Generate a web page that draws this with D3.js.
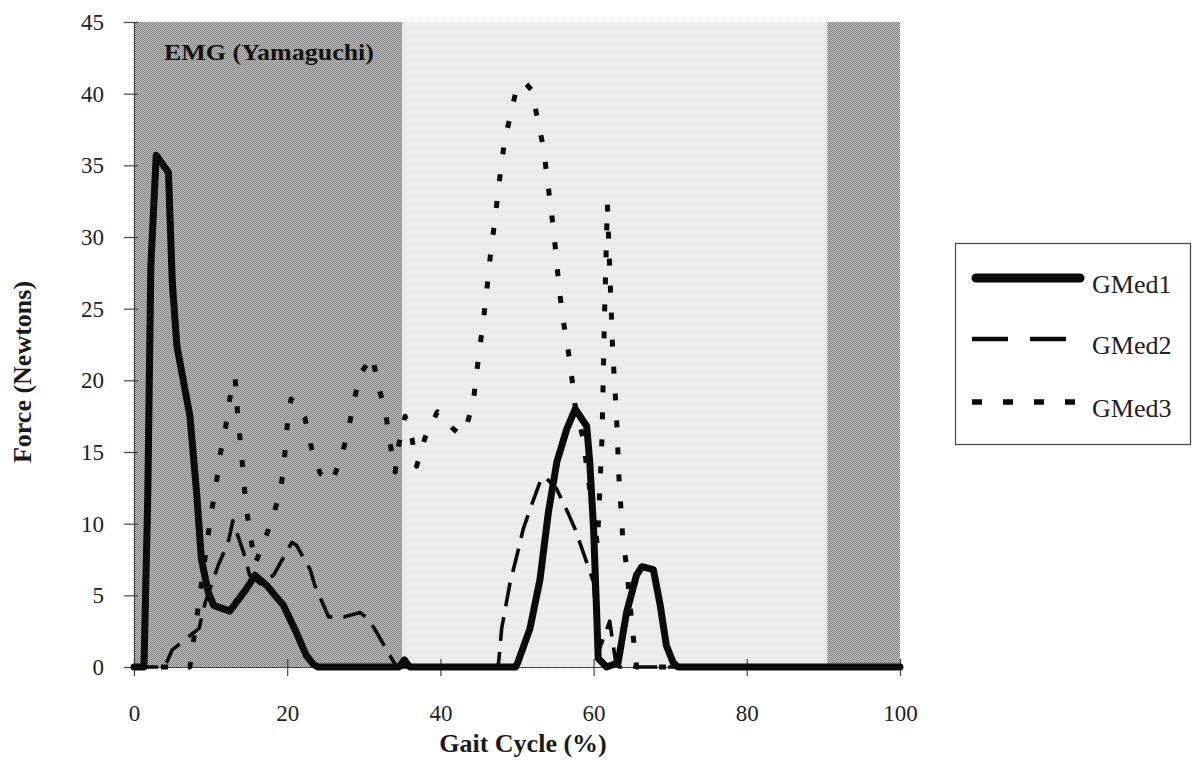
<!DOCTYPE html>
<html>
<head>
<meta charset="utf-8">
<script src="https://cdn.jsdelivr.net/npm/d3@7"></script>
<style>
  html, body { margin: 0; padding: 0; background: #fff; }
  svg { display: block; }
  text { font-family: "Liberation Serif", "Times New Roman", serif; fill: #1a1a1a; }
</style>
</head>
<body>
<svg id="chart" width="1193" height="776"></svg>
<script>
// Gait cycle (%) and force (N) samples for each gluteus medius segment
const gmed1 = [
  [0, 0], [1.3, 0], [1.8, 12], [2.2, 28], [2.9, 35.7], [4.5, 34.5], [5.0, 26.8],
  [5.6, 22.4], [7.3, 17.5], [8.2, 12.0], [8.8, 7.5], [9.7, 5.2], [10.4, 4.3],
  [12.5, 3.9], [14.6, 5.4], [15.8, 6.4], [17.3, 5.7], [19.5, 4.3], [21.2, 2.4],
  [22.5, 0.8], [23.4, 0.2], [24, 0], [34.6, 0], [35.3, 0.5], [36, 0],
  [49.8, 0], [50.1, 0.3], [51.7, 2.7], [53.0, 6.1], [54.1, 10.8], [55.2, 14.3],
  [56.5, 16.6], [57.6, 18.0], [59.1, 16.8], [59.5, 14.3], [60.0, 9.6], [60.4, 3.8],
  [60.6, 0.6], [61.7, 0], [63.2, 0.3], [64.3, 3.8], [65.6, 6.4], [66.3, 7.0],
  [67.8, 6.8], [68.7, 4.3], [69.5, 1.5], [70.4, 0.3], [71, 0], [100, 0]
];

const gmed2 = [
  [0, 0], [4, 0], [5.0, 1.2], [8.5, 2.7], [9.3, 4.5], [11.0, 7.1], [12.3, 8.7],
  [12.9, 10.2], [14.3, 8.0], [15.1, 6.4], [16.5, 5.8], [18.2, 6.4], [19.9, 8.0],
  [20.6, 8.7], [21.2, 8.5], [23.0, 6.8], [23.6, 5.7], [25.4, 3.5], [27.5, 3.5],
  [29.5, 3.8], [30.6, 3.35], [31.7, 2.4], [33.4, 0.8], [34.3, 0], [47.3, 0],
  [47.6, 0.3], [48.0, 2.7], [49.1, 5.9], [50.0, 7.8], [50.8, 9.6], [51.7, 11.0],
  [53.0, 12.9], [53.6, 13.3], [55.2, 12.4], [56.7, 10.7], [57.6, 9.6], [59.1, 7.3],
  [60.0, 5.9], [60.6, 1.0], [62.1, 3.2], [62.9, 0.3], [63.3, 0], [100, 0]
];

const gmed3 = [
  [0, 0], [7.3, 0], [10.1, 10.8], [10.7, 12.6], [11.2, 14.7], [11.9, 16.5],
  [12.5, 18.7], [13.2, 20.2], [13.5, 17.9], [13.9, 15.6], [14.3, 13.3], [14.6, 11.3],
  [15.1, 9.5], [15.8, 7.2], [16.9, 8.6], [18.0, 10.3], [19.1, 12.2], [19.6, 14.2],
  [19.9, 16.4], [20.5, 18.7], [22.3, 17.4], [23.2, 15.2], [24.3, 13.5], [25.8, 12.9],
  [27.0, 14.5], [28.0, 16.6], [28.7, 18.5], [29.5, 20.4], [31.1, 21.7], [31.9, 19.6],
  [32.8, 17.9], [33.4, 15.7], [34.1, 13.6], [34.6, 15.6], [35.4, 17.5], [36.3, 15.9],
  [36.9, 14.0], [38.0, 16.0], [39.6, 17.8], [41.5, 16.7], [42.6, 16.2], [43.3, 16.6],
  [44.3, 18.5], [44.7, 20.4], [45.2, 22.5], [45.7, 24.6], [46.1, 26.5], [46.5, 28.6],
  [47.0, 30.7], [47.4, 32.5], [47.9, 34.8], [48.4, 36.8], [49.2, 38.6], [50.0, 40.5],
  [51.0, 40.8], [52.0, 40.2], [52.7, 38.1], [53.4, 36.4], [53.9, 34.3], [54.4, 32.1],
  [54.8, 30.4], [55.2, 28.1], [55.6, 26.0], [56.0, 24.3], [56.7, 22.0], [57.2, 20.0],
  [57.6, 18.2], [58.6, 16.0], [59.6, 12.0], [60.5, 8.5], [61.1, 16.0], [61.4, 24.0],
  [61.8, 32.3], [62.2, 26.4], [62.5, 22.0], [63.0, 17.4], [63.3, 13.3], [63.8, 9.1],
  [64.3, 7.0], [65.0, 3.0], [65.6, 0], [100, 0]
];

const seriesNames = ["GMed1", "GMed2", "GMed3"];
const xTicks = [0, 20, 40, 60, 80, 100];
const yTicks = [0, 5, 10, 15, 20, 25, 30, 35, 40, 45];
// EMG activity bands along the gait cycle: [start, end, shade]
const emgBands = [[0, 35, "dark"], [35, 90.5, "light"], [90.5, 100, "dark"]];

const svg = d3.select("#chart");
const x = d3.scaleLinear().domain([0, 100]).range([134, 900]);
const y = d3.scaleLinear().domain([0, 45]).range([667, 22]);

// halftone-style screens for the bands
const defs = svg.append("defs");
function screen(id, a, b) {
  const p = defs.append("pattern").attr("id", id)
    .attr("patternUnits", "userSpaceOnUse").attr("width", 2).attr("height", 2);
  p.append("rect").attr("width", 2).attr("height", 2).attr("fill", a);
  p.append("rect").attr("width", 1).attr("height", 1).attr("fill", b);
  p.append("rect").attr("x", 1).attr("y", 1).attr("width", 1).attr("height", 1).attr("fill", b);
}
screen("screen-dark", "#c4c4c4", "#7e7e7e");
screen("screen-light", "#f6f6f6", "#e3e3e3");
const bandFill = { dark: "url(#screen-dark)", light: "url(#screen-light)" };

svg.append("g").selectAll("rect").data(emgBands).join("rect")
  .attr("x", d => x(d[0]))
  .attr("y", y(45))
  .attr("width", d => x(d[1]) - x(d[0]))
  .attr("height", y(0) - y(45))
  .attr("fill", d => bandFill[d[2]]);

svg.append("text")
  .attr("x", 164).attr("y", 60)
  .attr("font-size", 24).attr("font-weight", "bold")
  .attr("textLength", 210).attr("lengthAdjust", "spacingAndGlyphs")
  .style("fill", "#111")
  .text("EMG (Yamaguchi)");

// axes
const yAxis = d3.axisLeft(y).tickValues(yTicks).tickSizeInner(10).tickSizeOuter(0).tickPadding(20);
const gy = svg.append("g").attr("transform", `translate(${x(0)},0)`).call(yAxis);
const xAxis = d3.axisBottom(x).tickValues(xTicks).tickSizeInner(9).tickSizeOuter(0).tickPadding(29);
const gx = svg.append("g").attr("transform", `translate(0,${y(0)})`).call(xAxis);

[gx, gy].forEach(g => {
  g.select(".domain").attr("stroke", "#444").attr("stroke-width", 1.2);
  g.selectAll(".tick line").attr("stroke", "#444").attr("stroke-width", 1.2);
  g.selectAll(".tick text")
    .attr("font-family", '"Liberation Serif", "Times New Roman", serif')
    .attr("font-size", 23).style("fill", "#222");
});
// ticks cross the axis line
gy.selectAll(".tick line").attr("x1", 4);
gx.selectAll(".tick line").attr("y1", -8);

svg.append("text")
  .attr("x", 523).attr("y", 752)
  .attr("text-anchor", "middle")
  .attr("font-size", 26).attr("font-weight", "bold")
  .text("Gait Cycle (%)");

svg.append("text")
  .attr("transform", "translate(31,372) rotate(-90)")
  .attr("text-anchor", "middle")
  .attr("font-size", 26).attr("font-weight", "bold")
  .text("Force (Newtons)");

// series lines
const line = d3.line().x(d => x(d[0])).y(d => y(d[1]));
const styles = [
  { width: 7, dash: null, cap: "round" },
  { width: 3.6, dash: "24,11", cap: "butt" },
  { width: 5, dash: "7,20", cap: "butt" }
];
const data = [gmed1, gmed2, gmed3];

[2, 1, 0].forEach(i => {
  svg.append("path")
    .datum(data[i])
    .attr("d", line)
    .attr("fill", "none")
    .attr("stroke", "#0a0a0a")
    .attr("stroke-width", styles[i].width)
    .attr("stroke-linejoin", "round")
    .attr("stroke-linecap", styles[i].cap)
    .attr("stroke-dasharray", styles[i].dash);
});

// legend
const legend = svg.append("g");
legend.append("rect")
  .attr("x", 955.5).attr("y", 243.5).attr("width", 235).attr("height", 201)
  .attr("fill", "#fff").attr("stroke", "#444").attr("stroke-width", 1.2);
const legendY = [278, 339, 402];
const legendStyles = [
  { width: 9, dash: null, cap: "round" },
  { width: 4.5, dash: "36,22", cap: "butt" },
  { width: 5.5, dash: "10,21", cap: "butt" }
];
seriesNames.forEach((name, i) => {
  legend.append("line")
    .attr("x1", i === 0 ? 976 : 972).attr("x2", i === 0 ? 1080 : 1083)
    .attr("y1", legendY[i]).attr("y2", legendY[i])
    .attr("stroke", "#0a0a0a")
    .attr("stroke-width", legendStyles[i].width)
    .attr("stroke-linecap", legendStyles[i].cap)
    .attr("stroke-dasharray", legendStyles[i].dash);
  legend.append("text")
    .attr("x", 1092).attr("y", legendY[i] + 15)
    .attr("font-size", 26)
    .style("fill", "#222")
    .text(name);
});
</script>
</body>
</html>
